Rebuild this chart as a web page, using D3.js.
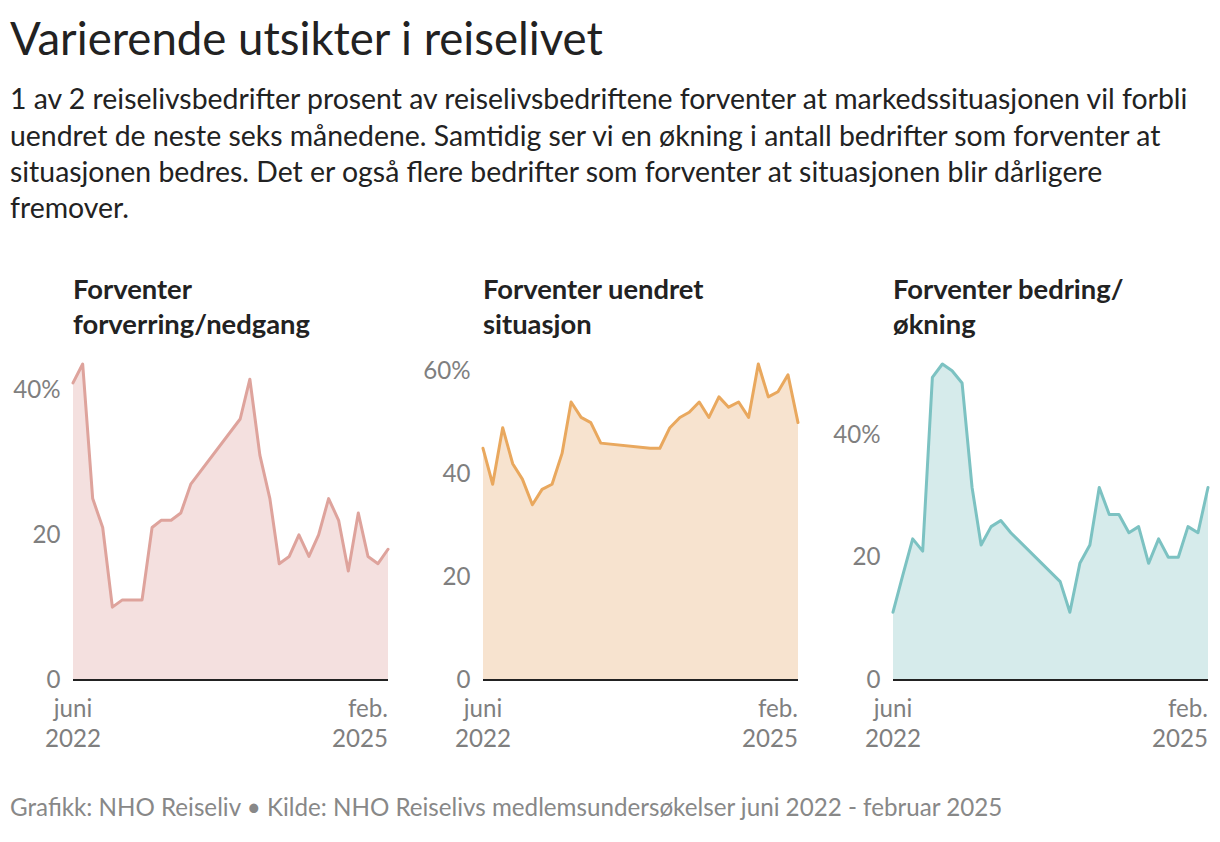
<!DOCTYPE html>
<html>
<head>
<meta charset="utf-8">
<script src="https://cdn.jsdelivr.net/npm/d3@7"></script>
<style>
  body { margin: 0; background: #fff; }
  svg { display: block; }
  text { font-family: Lato, "Open Sans", sans-serif; }
</style>
</head>
<body>
<svg id="chart" width="1220" height="842"></svg>
<script>
// ---- data ----
const months = [
  "2022-06","2022-07","2022-08","2022-09","2022-10","2022-11","2022-12",
  "2023-01","2023-02","2023-03","2023-04","2023-05","2023-06",
  "2023-11","2023-12",
  "2024-01","2024-02","2024-03","2024-04","2024-05","2024-06","2024-07",
  "2024-08","2024-09","2024-10","2024-11","2024-12","2025-01","2025-02"
];
const worse = [41, 43.6, 25, 21, 10, 11, 11, 11, 21, 22, 22, 23, 27,
               36, 41.5, 31, 25, 16, 17, 20, 17, 20, 25, 22, 15, 23, 17, 16, 18];
const unchanged = [45, 38, 49, 42, 39, 34, 37, 38, 44, 54, 51, 50, 46,
               45, 45, 49, 51, 52, 54, 51, 55, 53, 54, 51, 61.4, 55, 56, 59.3, 50];
const better = [11, 17, 23, 21, 49.4, 51.6, 50.5, 48.5, 31.4, 22, 25, 26, 24,
               16, 11, 19, 22, 31.4, 27, 27, 24, 25, 19, 23, 20, 20, 25, 24, 31.4];
const panelTitles = [["Forventer","forverring/nedgang"],["Forventer uendret","situasjon"],["Forventer bedring/","økning"]];
const yTicks = [[0,20,40],[0,20,40,60],[0,20,40]];
const xTickLabels = [["juni","2022"],["feb.","2025"]];
const title = "Varierende utsikter i reiselivet";
const subtitle = [
  "1 av 2 reiselivsbedrifter prosent av reiselivsbedriftene forventer at markedssituasjonen vil forbli",
  "uendret de neste seks månedene. Samtidig ser vi en økning i antall bedrifter som forventer at",
  "situasjonen bedres. Det er også flere bedrifter som forventer at situasjonen blir dårligere",
  "fremover."
];
const footer = "Grafikk: NHO Reiseliv • Kilde: NHO Reiselivs medlemsundersøkelser juni 2022 - februar 2025";

const series = [worse, unchanged, better];
const lineColors = ["#dea39c", "#e9a85e", "#7cc2c2"];
const fillColors = ["#f4e0df", "#f7e3cf", "#d6ebeb"];

// ---- drawing ----
const svg = d3.select("#chart");
const parse = d3.timeParse("%Y-%m");
const dates = months.map(parse);

function fitSize(text, weight, target) {
  const tmp = svg.append("text").style("font-size", "20px").style("font-weight", weight).text(text);
  const w = tmp.node().getComputedTextLength();
  tmp.remove();
  return 20 * target / w;
}

const t = svg.append("text").attr("x", 10).attr("y", 55)
  .style("font-size", fitSize(title, 400, 593) + "px").style("fill", "#222").text(title);

const subBase = [108.5, 145.5, 181.5, 218];
const subSize = fitSize(subtitle[0], 400, 1178);
subtitle.forEach((line, i) => {
  svg.append("text").attr("x", 10).attr("y", subBase[i])
    .style("font-size", subSize + "px").style("fill", "#222").text(line);
});

svg.append("text").attr("x", 10).attr("y", 816)
  .style("font-size", fitSize(footer, 400, 993) + "px").style("fill", "#888").text(footer);

const ptSize = fitSize(panelTitles[0][1], 700, 237);
const axSize = fitSize("2022", 400, 56);

const plotLefts = [73, 483, 893];
const plotW = 315;
const y0 = 679.5, yTop = 364;

series.forEach((vals, k) => {
  const left = plotLefts[k];
  const x = d3.scaleTime().domain(d3.extent(dates)).range([left, left + plotW]);
  const y = d3.scaleLinear().domain([0, d3.max(vals)]).range([y0, yTop]);
  const g = svg.append("g");

  // panel title
  const pt = g.append("text").attr("x", left).attr("y", 298.5)
    .style("font-size", ptSize + "px").style("font-weight", 700).style("fill", "#222");
  pt.append("tspan").attr("x", left).attr("y", 298.5).text(panelTitles[k][0]);
  pt.append("tspan").attr("x", left).attr("y", 333.5).text(panelTitles[k][1]);

  const pts = vals.map((v, i) => ({ d: dates[i], v }));
  g.append("path").datum(pts)
    .attr("d", d3.area().x(p => x(p.d)).y0(y(0)).y1(p => y(p.v)))
    .attr("fill", fillColors[k]);
  g.append("path").datum(pts)
    .attr("d", d3.line().x(p => x(p.d)).y(p => y(p.v)))
    .attr("fill", "none").attr("stroke", lineColors[k])
    .attr("stroke-width", 3).attr("stroke-linejoin", "round").attr("stroke-linecap", "round");

  // y axis
  const ticks = yTicks[k];
  const top = d3.max(ticks);
  const ya = d3.axisLeft(y).tickValues(ticks).tickSize(0).tickPadding(12.5)
    .tickFormat(d => d === top ? d + "%" : d);
  const yg = g.append("g").attr("transform", `translate(${left},0)`).call(ya);
  yg.select(".domain").remove();
  yg.selectAll("text").style("font-size", axSize + "px").style("fill", "#7f7f7f")
    .style("font-family", "Lato, sans-serif");

  // baseline
  g.append("line").attr("x1", left).attr("x2", left + plotW)
    .attr("y1", y(0) + 0.5).attr("y2", y(0) + 0.5)
    .attr("stroke", "#222").attr("stroke-width", 2);

  // x tick labels
  const ends = d3.extent(dates);
  ends.forEach((d, j) => {
    const tx = g.append("text").attr("x", x(d))
      .attr("text-anchor", j === 0 ? "middle" : "end")
      .style("font-size", axSize + "px").style("fill", "#7f7f7f");
    tx.append("tspan").attr("x", x(d)).attr("y", 716.5).text(xTickLabels[j][0]);
    tx.append("tspan").attr("x", x(d)).attr("y", 747).text(xTickLabels[j][1]);
  });
});
</script>
</body>
</html>
